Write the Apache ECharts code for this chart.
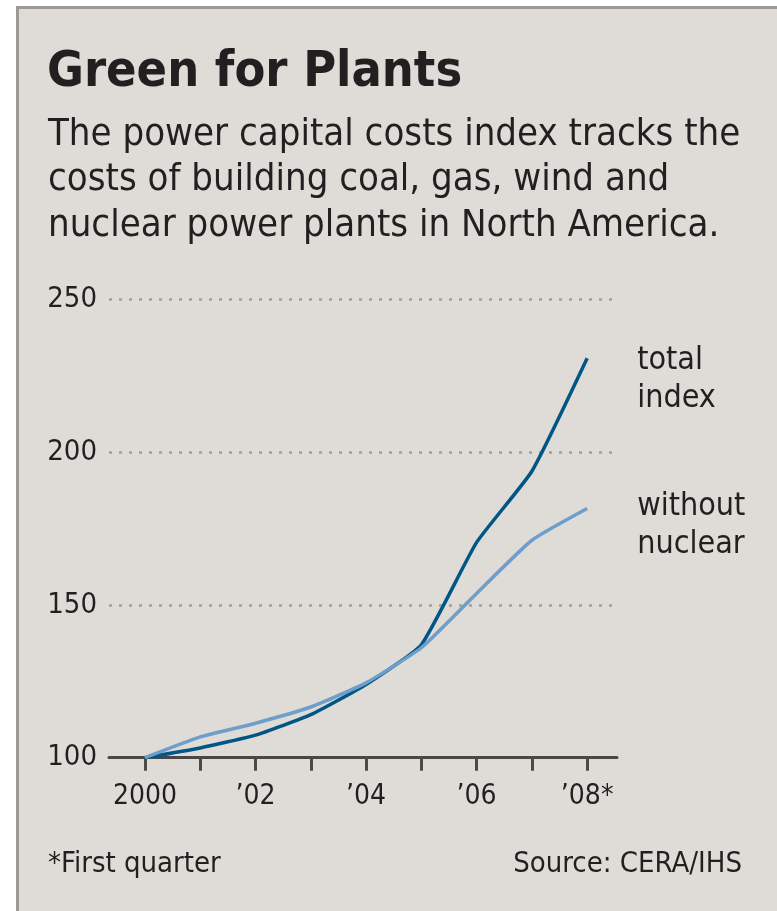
<!DOCTYPE html>
<html>
<head>
<meta charset="utf-8">
<script src="https://cdn.jsdelivr.net/npm/echarts@6/dist/echarts.min.js"></script>
<style>
  html, body { margin: 0; padding: 0; background: #ffffff; width: 777px; height: 911px; overflow: hidden; }
  #frame { position: absolute; left: 16px; top: 6px; width: 761px; height: 905px;
           border-left: 3px solid #9b9a98; border-top: 3px solid #9b9a98; background: #dfdcd8; box-sizing: border-box; }
  #chart { position: absolute; left: 0; top: 0; width: 777px; height: 911px; }
</style>
</head>
<body>
<div id="frame"></div>
<div id="chart"></div>
<script>
// ---- data ----
const years = [2000, 2001, 2002, 2003, 2004, 2005, 2006, 2007, 2008];
const totalIndex = [100, 103.2, 107.4, 114.1, 124, 137, 170.5, 193.8, 230.8];
const withoutNuclear = [100, 106.8, 111.3, 116.6, 124.5, 136, 153.8, 171.2, 181.6];
const xTickLabels = {2000: '2000', 2002: '\u201902', 2004: '\u201904', 2006: '\u201906', 2008: '\u201908*'};
const labeledYears = [2000, 2002, 2004, 2006, 2008];
const yTicks = [100, 150, 200, 250];
const seriesLabels = ['total\nindex', 'without\nnuclear'];

const FONT = '"DejaVu Sans Condensed", "DejaVu Sans", sans-serif';
const INK = '#231f20';

const chart = echarts.init(document.getElementById('chart'), null, {renderer: 'canvas'});
chart.setOption({
  backgroundColor: 'transparent',
  animation: false,
  title: [
    { text: 'Green for Plants', left: 42, top: 43,
      textStyle: { fontFamily: FONT, fontWeight: 'bold', fontSize: 50, color: INK } },
    { text: 'The power capital costs index tracks the\ncosts of building coal, gas, wind and\nnuclear power plants in North America.',
      left: 43, top: 107,
      textStyle: { fontFamily: FONT, fontWeight: 'normal', fontSize: 38, lineHeight: 45.5, color: INK } },
    { text: '*First quarter', left: 43, top: 845,
      textStyle: { fontFamily: FONT, fontWeight: 'normal', fontSize: 29, color: INK } },
    { text: 'Source: CERA/IHS', right: 30, top: 845,
      textStyle: { fontFamily: FONT, fontWeight: 'normal', fontSize: 29, color: INK } }
  ],
  grid: { left: 109, right: 160, top: 299.6, bottom: 153.3, containLabel: false },
  xAxis: {
    type: 'value', min: 1999.35, max: 2008.54,
    axisLine: { show: true, lineStyle: { color: '#4a4646', width: 3 } },
    axisTick: { show: true, length: 13, lineStyle: { color: '#4d4949', width: 3 }, customValues: years },
    axisLabel: { margin: 25, fontFamily: FONT, fontSize: 28, color: INK,
      customValues: labeledYears, formatter: v => xTickLabels[v] || '' },
    splitLine: { show: false }
  },
  yAxis: {
    type: 'value', min: 100, max: 250, interval: 50,
    axisLine: { show: false }, axisTick: { show: false },
    axisLabel: { margin: 12, fontFamily: FONT, fontSize: 29, color: INK },
    splitLine: { show: true, lineStyle: { color: '#a29e9b', width: 2.5, type: [3, 7] } }
  },
  series: [
    { name: 'total index', type: 'line', data: years.map((y, i) => [y, totalIndex[i]]),
      smooth: 0.15, showSymbol: false, lineStyle: { color: '#005685', width: 3.5 },
      endLabel: { show: true, formatter: () => seriesLabels[0], offset: [42, 21], align: 'left', verticalAlign: 'middle',
        fontFamily: FONT, fontSize: 32, lineHeight: 38, color: INK } },
    { name: 'without nuclear', type: 'line', data: years.map((y, i) => [y, withoutNuclear[i]]),
      smooth: 0.15, showSymbol: false, lineStyle: { color: '#6e9ecb', width: 3.5 },
      endLabel: { show: true, formatter: () => seriesLabels[1], offset: [42, 17], align: 'left', verticalAlign: 'middle',
        fontFamily: FONT, fontSize: 32, lineHeight: 38, color: INK } }
  ]
});
</script>
</body>
</html>
